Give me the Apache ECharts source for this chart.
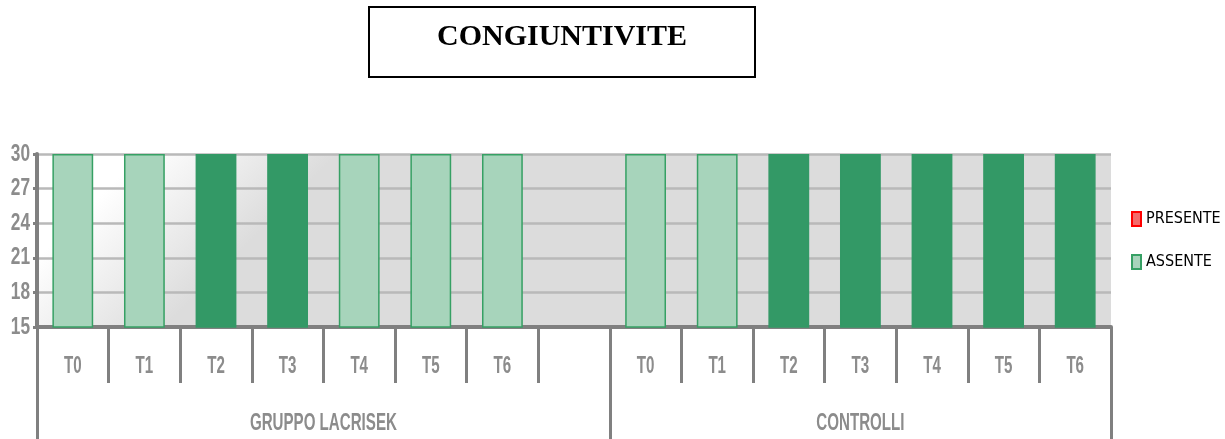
<!DOCTYPE html>
<html>
<head>
<meta charset="utf-8">
<title>CONGIUNTIVITE</title>
<script src="https://cdn.jsdelivr.net/npm/echarts@6/dist/echarts.min.js"></script>
<style>
  html, body { margin: 0; padding: 0; background: #ffffff; }
  #chart { width: 1225px; height: 439px; }
</style>
</head>
<body>
<div id="chart"></div>
<script>
// Time points recorded for each group
const timepoints = ['T0', 'T1', 'T2', 'T3', 'T4', 'T5', 'T6'];
// Group names shown on the lower axis row
const groups = ['GRUPPO LACRISEK', 'CONTROLLI'];
// Number of patients per time point
const lacrisekPresente = [0, 0, 0, 0, 0, 0, 0];
const lacrisekAssente = [30, 30, 30, 30, 30, 30, 30];
const controlliPresente = [0, 0, 0, 0, 0, 0, 0];
const controlliAssente = [30, 30, 30, 30, 30, 30, 30];
// Value axis range and step
const yMin = 15;
const yMax = 30;
const yStep = 3;

// One empty slot separates the two groups
const categories = timepoints.concat([''], timepoints);
const presente = lacrisekPresente.concat([null], controlliPresente);
const assente = lacrisekAssente.concat([null], controlliAssente);
const groupSlots = [timepoints.length + 1, timepoints.length];

// Slot boundaries and centres for the group row
const groupEdges = [0];
groupSlots.forEach(function (n) { groupEdges.push(groupEdges[groupEdges.length - 1] + n); });
const groupCentres = groups.map(function (_, i) { return (groupEdges[i] + groupEdges[i + 1]) / 2; });
const totalSlots = groupEdges[groupEdges.length - 1];

// Styling
const labelFont = "bold 24px 'Liberation Sans', Arial, sans-serif";
const axisGrey = '#808080';
const labelGrey = '#8c8c8c';
const lightGreen = '#a7d4bb';
const greenEdge = '#36a064';
const darkGreen = '#339966';
const darkSlots = [2, 3, 10, 11, 12, 13, 14];
// Narrow lettering: the labels are drawn squeezed horizontally
const squeezeX = 0.63;
const squeezeY = 0.72;

const assenteItems = assente.map(function (v, i) {
  if (v === null) return '-';
  if (darkSlots.indexOf(i) >= 0) {
    return { value: v, itemStyle: { color: darkGreen, borderColor: darkGreen } };
  }
  return v;
});
const presenteItems = presente.map(function (v) { return v === null ? '-' : v; });

const chart = echarts.init(document.getElementById('chart'), null, { renderer: 'canvas' });

chart.setOption({
  animation: false,
  backgroundColor: '#ffffff',
  title: {
    text: 'CONGIUNTIVITE',
    left: 369,
    top: 7,
    padding: [15, 68, 25, 68],
    borderColor: '#000000',
    borderWidth: 2,
    textStyle: {
      fontFamily: "'Liberation Serif', 'DejaVu Serif', serif",
      fontWeight: 'bold',
      fontSize: 30,
      lineHeight: 30,
      color: '#000000'
    }
  },
  legend: {
    orient: 'vertical',
    left: 1131,
    top: 211,
    padding: 0,
    itemWidth: 9,
    itemHeight: 14,
    itemGap: 27,
    icon: 'rect',
    textStyle: { fontFamily: "'DejaVu Sans Condensed', 'Liberation Sans', sans-serif", fontSize: 16, color: '#000000' },
    data: ['PRESENTE', 'ASSENTE']
  },
  grid: {
    left: 37,
    right: 114,
    top: 154,
    bottom: 112,
    show: true,
    borderWidth: 0,
    backgroundColor: {
      type: 'linear',
      x: 0, y: 0, x2: 0.14, y2: 0.87,
      colorStops: [
        { offset: 0, color: '#ffffff' },
        { offset: 0.35, color: '#ffffff' },
        { offset: 1, color: '#dcdcdc' }
      ]
    }
  },
  xAxis: [
    {
      type: 'category',
      data: categories,
      boundaryGap: true,
      axisLine: { show: true, lineStyle: { color: axisGrey, width: 4 } },
      axisTick: { show: true, interval: 0, length: 56, lineStyle: { color: axisGrey, width: 3 } },
      axisLabel: { show: false },
      splitLine: { show: false }
    },
    {
      type: 'value',
      position: 'bottom',
      min: 0,
      max: totalSlots,
      axisLine: { show: false },
      splitLine: { show: false },
      axisTick: {
        show: true,
        customValues: groupEdges,
        length: 112,
        lineStyle: { color: axisGrey, width: 3 }
      },
      axisLabel: { show: false }
    }
  ],
  yAxis: {
    type: 'value',
    min: yMin,
    max: yMax,
    interval: yStep,
    axisLine: { show: true, lineStyle: { color: axisGrey, width: 4 } },
    axisTick: { show: true, length: 4, lineStyle: { color: axisGrey, width: 3 } },
    axisLabel: { show: false },
    splitLine: { show: true, lineStyle: { color: '#b9b9b9', width: 2.5 } }
  },
  series: [
    {
      name: 'PRESENTE',
      type: 'bar',
      stack: 'totale',
      clip: true,
      barWidth: '57%',
      data: presenteItems,
      itemStyle: { color: '#f46a6a', borderColor: '#ff0000', borderWidth: 1.5 }
    },
    {
      name: 'ASSENTE',
      type: 'bar',
      stack: 'totale',
      clip: true,
      barWidth: '57%',
      data: assenteItems,
      itemStyle: { color: lightGreen, borderColor: greenEdge, borderWidth: 1.5 }
    }
  ]
});

// Axis lettering placed from the axes' own scales, drawn narrow
function narrowText(text, x, y, align, sx) {
  return {
    type: 'text',
    silent: true,
    x: x,
    y: y,
    scaleX: sx,
    style: {
      text: text,
      font: labelFont,
      fill: labelGrey,
      textAlign: align,
      textVerticalAlign: 'middle'
    }
  };
}

const baseY = chart.convertToPixel({ yAxisIndex: 0 }, yMin);
const leftX = chart.convertToPixel({ xAxisIndex: 1 }, 0);
const labels = [];

categories.forEach(function (c, i) {
  if (!c) return;
  labels.push(narrowText(c, chart.convertToPixel({ xAxisIndex: 0 }, i), baseY + 39, 'center', squeezeX));
});
groups.forEach(function (g, i) {
  labels.push(narrowText(g, chart.convertToPixel({ xAxisIndex: 1 }, groupCentres[i]), baseY + 96, 'center', squeezeX));
});
for (let v = yMin; v <= yMax; v += yStep) {
  labels.push(narrowText(String(v), leftX - 7, chart.convertToPixel({ yAxisIndex: 0 }, v), 'right', squeezeY));
}

chart.setOption({ graphic: labels });
</script>
</body>
</html>
